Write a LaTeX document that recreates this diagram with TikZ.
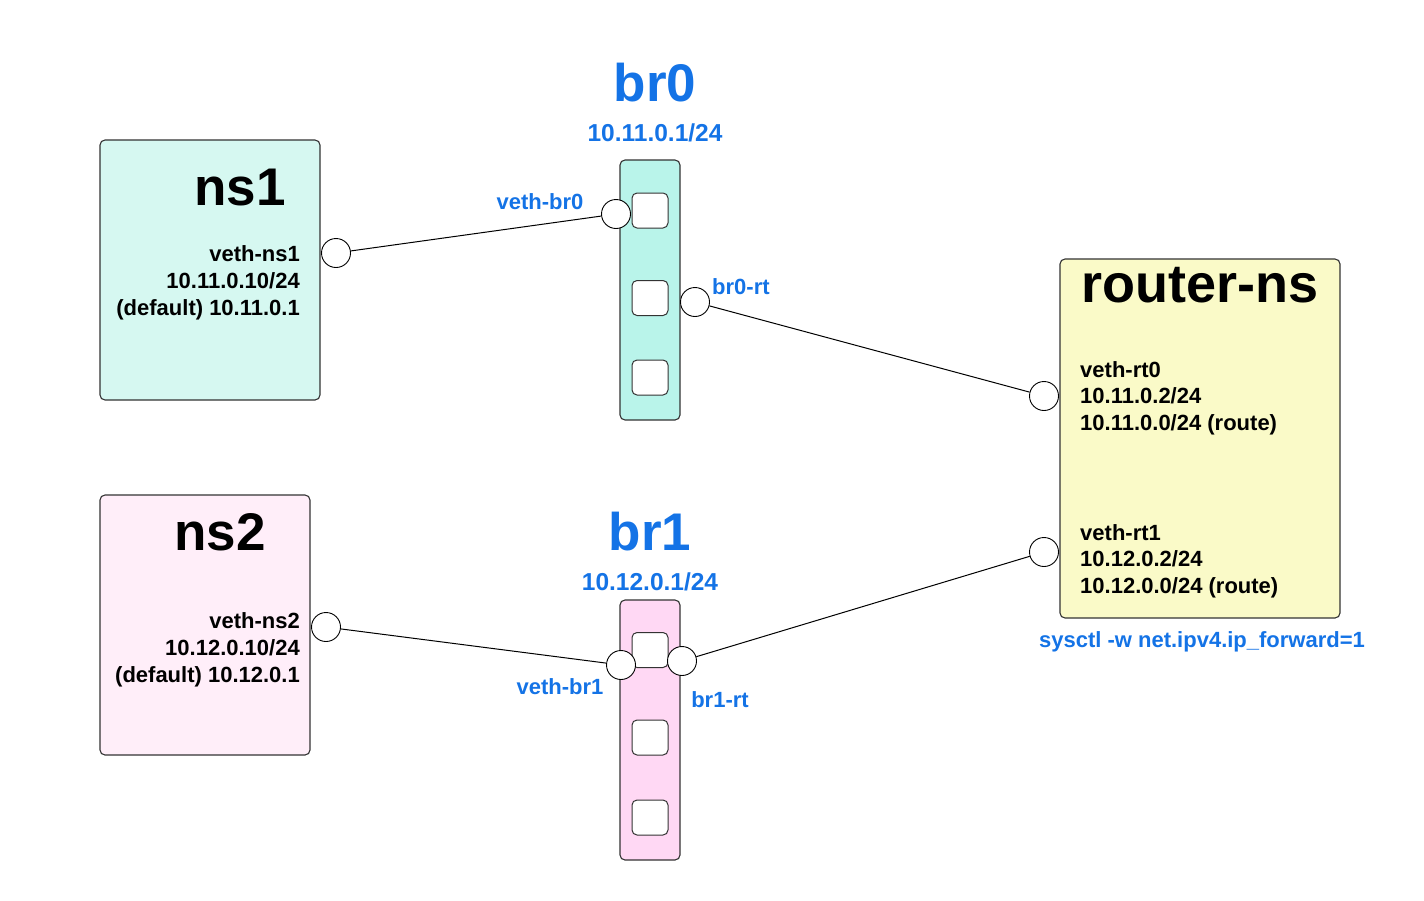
\documentclass[tikz,border=0pt]{standalone}
\usepackage{fontspec}
\setmainfont{Liberation Sans}
\definecolor{lblue}{HTML}{1473E6}
\definecolor{fnsone}{HTML}{D6F8F1}
\definecolor{fbrzero}{HTML}{B9F4EA}
\definecolor{frouter}{HTML}{FAFAC8}
\definecolor{fnstwo}{HTML}{FFEEF9}
\definecolor{fbrone}{HTML}{FFD8F4}
\definecolor{edge}{HTML}{333333}
\tikzset{
  nsbox/.style={draw=edge, line width=1.1pt, rounded corners=5pt, inner sep=0pt},
  port/.style={draw=edge, line width=1pt, rounded corners=5pt, fill=white, minimum width=36pt, minimum height=35pt, inner sep=0pt},
  iface/.style={circle, draw=black, line width=0.9pt, fill=white, minimum size=29pt, inner sep=0pt},
  link/.style={draw=black, line width=1pt},
  bigtitle/.style={font=\bfseries\fontsize{53}{60}\selectfont, inner sep=0pt, anchor=base},
  info/.style={font=\bfseries\fontsize{22}{27}\selectfont, inner sep=0pt},
  rinfo/.style={font=\bfseries\fontsize{22}{26.5}\selectfont, inner sep=0pt},
  blab/.style={font=\bfseries\fontsize{22}{27}\selectfont, text=lblue, inner sep=0pt, anchor=base},
}
\begin{document}
\begin{tikzpicture}[x=1pt,y=-1pt]
\useasboundingbox (0,0) rectangle (1424,900);
% boxes
\node[nsbox, fill=fnsone, minimum width=220pt, minimum height=260pt] (ns1) at (210,270) {};
\node[nsbox, fill=fbrzero, minimum width=60pt, minimum height=260pt] (br0) at (650,290) {};
\node[nsbox, fill=frouter, minimum width=280pt, minimum height=359pt] (rt) at (1200,438.5) {};
\node[nsbox, fill=fnstwo, minimum width=210pt, minimum height=260pt] (ns2) at (205,625) {};
\node[nsbox, fill=fbrone, minimum width=60pt, minimum height=260pt] (br1) at (650,730) {};
% ports
\node[port] (p01) at (650,210.5) {};
\node[port] (p02) at (650,298) {};
\node[port] (p03) at (650,377.5) {};
\node[port] (p11) at (650,650) {};
\node[port] (p12) at (650,737.5) {};
\node[port] (p13) at (650,817.5) {};
% titles
\node[bigtitle] (tns1) at (240,205) {ns1};
\node[bigtitle] (tns2) at (220,550) {ns2};
\node[bigtitle, font=\bfseries\fontsize{54}{60}\selectfont] (trt) at (1200,302) {router-ns};
\node[bigtitle, text=lblue] (tbr0) at (655,101) {br0};
\node[bigtitle, text=lblue] (tbr1) at (650,550) {br1};
\node[blab, font=\bfseries\fontsize{24.5}{27}\selectfont] (ipbr0) at (655,141) {10.11.0.1/24};
\node[blab, font=\bfseries\fontsize{24.5}{27}\selectfont] (ipbr1) at (650,590) {10.12.0.1/24};
% info texts (base anchor = last line baseline)
\node[info, anchor=base east, align=right] (ins1) at (300,315) {veth-ns1\\10.11.0.10/24\\(default) 10.11.0.1};
\node[info, anchor=base east, align=right] (ins2) at (300,682) {veth-ns2\\10.12.0.10/24\\(default) 10.12.0.1};
\node[rinfo, anchor=base west, align=left] (irt0) at (1080,430) {veth-rt0\\10.11.0.2/24\\10.11.0.0/24 (route)};
\node[rinfo, anchor=base west, align=left] (irt1) at (1080,593) {veth-rt1\\10.12.0.2/24\\10.12.0.0/24 (route)};
\node[blab] (sys) at (1202,647) {sysctl -w net.ipv4.ip\_forward=1};
% interfaces
\node[iface] (cns1) at (336,253) {};
\node[iface] (cvb0) at (616,214) {};
\node[iface] (cb0rt) at (695,302) {};
\node[iface] (crt0) at (1044,396) {};
\node[iface] (crt1) at (1044,552) {};
\node[iface] (cns2) at (326,627) {};
\node[iface] (cvb1) at (621,665) {};
\node[iface] (cb1rt) at (682,661) {};
% interface labels
\node[blab] (lvb0) at (540,209) {veth-br0};
\node[blab, anchor=base west] (lb0rt) at (712,294) {br0-rt};
\node[blab] (lvb1) at (560,694) {veth-br1};
\node[blab] (lb1rt) at (720,707) {br1-rt};
% links
\draw[link] (cns1) -- (cvb0);
\draw[link] (cb0rt) -- (crt0);
\draw[link] (cns2) -- (cvb1);
\draw[link] (cb1rt) -- (crt1);
\end{tikzpicture}
\end{document}
